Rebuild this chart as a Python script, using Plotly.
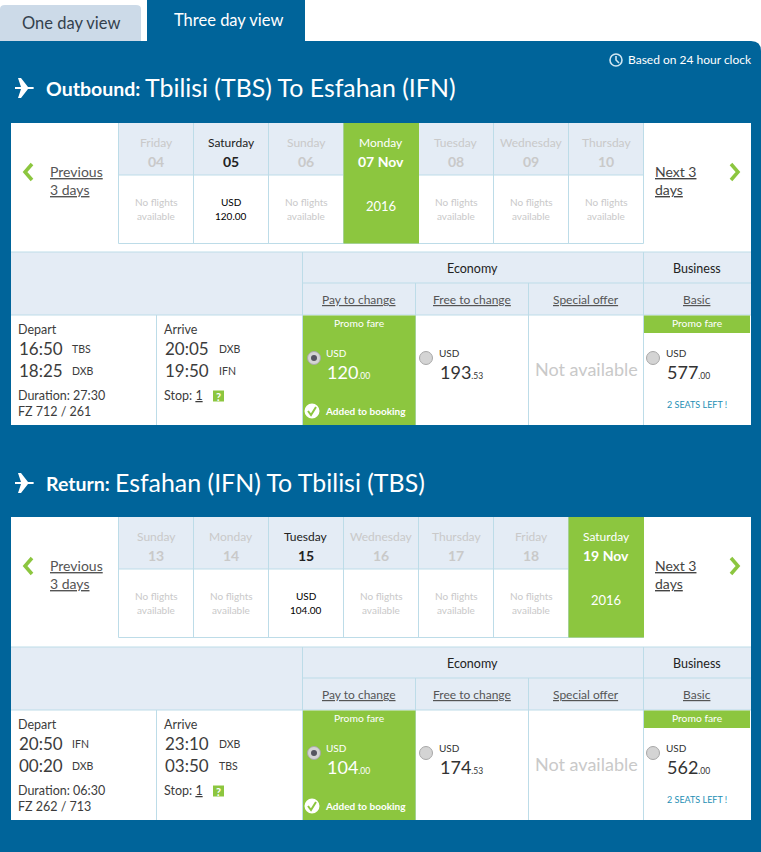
import plotly.graph_objects as go

# Data
tab_labels = ["One day view", "Three day view"]
clock_note = "Based on 24 hour clock"

section_titles = ["Outbound:", "Return:"]
section_routes = ["Tbilisi (TBS) To Esfahan (IFN)", "Esfahan (IFN) To Tbilisi (TBS)"]

day_names = [
    ["Friday", "Saturday", "Sunday", "Monday", "Tuesday", "Wednesday", "Thursday"],
    ["Sunday", "Monday", "Tuesday", "Wednesday", "Thursday", "Friday", "Saturday"],
]
day_numbers = [
    ["04", "05", "06", "07 Nov", "08", "09", "10"],
    ["13", "14", "15", "16", "17", "18", "19 Nov"],
]
day_fares = [
    [None, "120.00", None, None, None, None, None],
    [None, None, "104.00", None, None, None, None],
]
selected_day = [3, 6]
selected_year = "2016"

fare_headers = ["Pay to change", "Free to change", "Special offer", "Basic"]
cabin_names = ["Economy", "Business"]

depart_times = [["16:50", "18:25"], ["20:50", "00:20"]]
depart_codes = [["TBS", "DXB"], ["IFN", "DXB"]]
arrive_times = [["20:05", "19:50"], ["23:10", "03:50"]]
arrive_codes = [["DXB", "IFN"], ["DXB", "TBS"]]
durations = ["27:30", "06:30"]
flight_numbers = ["FZ 712 / 261", "FZ 262 / 713"]
stops = ["1", "1"]

fare_whole = [["120", "193", None, "577"], ["104", "174", None, "562"]]
fare_cents = [["00", "53", None, "00"], ["00", "53", None, "00"]]

# Styles and layout
FONT = "Lato"
BLUE = "#00649a"
GREEN = "#8cc63f"
PALE = "#e4ecf5"
LINE = "#bddce8"
TAB = "#ccdae8"
DARK = "#3c3c3c"
FADED = "#c9c9c9"
COL_EDGES = [118.5, 193.5, 268.5, 343.5, 418.5, 493.5, 568.5, 643.5]
FARE_EDGES = [302.5, 415.5, 528.5, 643.5, 751]
CAL_TOPS = [123, 517]
ROW_TOPS = [252, 647]
TITLE_Y = [88, 483]
ROUTE_X = [145, 115]

shapes = []
notes = []


def rect(x0, y0, x1, y1, fill, layer="above"):
    shapes.append(dict(type="rect", x0=x0, y0=y0, x1=x1, y1=y1, fillcolor=fill,
                       line=dict(width=0), layer=layer))


def hline(x0, x1, y):
    shapes.append(dict(type="line", x0=x0, x1=x1, y0=y, y1=y, line=dict(color=LINE, width=1)))


def vline(x, y0, y1):
    shapes.append(dict(type="line", x0=x, x1=x, y0=y0, y1=y1, line=dict(color=LINE, width=1)))


def path(d, fill=None, color=None, width=0):
    shapes.append(dict(type="path", path=d, fillcolor=fill or "rgba(0,0,0,0)",
                       line=dict(color=color or "rgba(0,0,0,0)", width=width)))


def circle(cx, cy, r, fill, color=None, width=0):
    shapes.append(dict(type="circle", x0=cx - r, x1=cx + r, y0=cy - r, y1=cy + r,
                       fillcolor=fill, line=dict(color=color or "rgba(0,0,0,0)", width=width)))


def label(x, y, text, size=12, color=DARK, anchor="left", family=FONT):
    # Lato sits a pixel low and right of where the picture has its text
    x = x - 1 if anchor == "left" else x
    notes.append(dict(x=x, y=y - 1, text=text, showarrow=False, xanchor=anchor, yanchor="middle",
                      borderpad=0, font=dict(family=family, size=size, color=color)))


def plane(x, y):
    path(f"M {x-10} {y-1} L {x-4} {y-1} L {x-7} {y-10} L {x-4} {y-10} L {x+3} {y-1} "
         f"L {x+8} {y-1} Q {x+10} {y} {x+8} {y+1} L {x+3} {y+1} L {x-4} {y+10} L {x-7} {y+10} "
         f"L {x-4} {y+1} L {x-10} {y+1} Z", fill="white")


def radio(x, y, on=False):
    circle(x, y, 6.5, "#d4d4d4", "#a8a8a8", 1)
    if on:
        circle(x, y, 3, "#555560")


def price(x, y, whole, cents, color):
    label(x, y, f'{whole}<span style="font-size:8.5px">.{cents}</span>', 18, color)


# Page background and tabs
rect(0, 41, 761, 852, BLUE, "below")
path("M 0 41 L 0 9 Q 0 5 5 5 L 136 5 Q 141 5 141 9 L 141 41 Z", fill=TAB)
path("M 147 41 L 147 0 L 305 0 L 305 41 Z", fill=BLUE)
path("M 751 41 Q 761 41 761 51 L 761 41 Z", fill="white")
label(71, 24, tab_labels[0], 16.5, "#33414d", "center")
label(228, 21, tab_labels[1], 16.5, "white", "center")

circle(616, 60, 6, BLUE, "#cfe6f2", 1.6)
path("M 616 56 L 616 60 L 619 63", color="#cfe6f2", width=1.6)
label(628, 60, clock_note, 12, "white")

for s in range(2):
    top = CAL_TOPS[s]
    row = ROW_TOPS[s]
    cal_head = top + 52
    cal_foot = top + 120.5
    plane(25, TITLE_Y[s])
    label(46, TITLE_Y[s] + 1, f"<b>{section_titles[s]}</b>", 19.5, "white")
    label(ROUTE_X[s], TITLE_Y[s], section_routes[s], 24.9, "white")

    # White card
    rect(11, top, 751, row + 173, "white")

    # Day strip
    rect(COL_EDGES[0], top, COL_EDGES[-1], cal_head, PALE)
    hline(COL_EDGES[0], COL_EDGES[-1], cal_head)
    hline(COL_EDGES[0], COL_EDGES[-1], cal_foot)
    for edge in COL_EDGES:
        vline(edge, top, cal_foot)
    pick = selected_day[s]
    rect(COL_EDGES[pick], top, COL_EDGES[pick + 1] + 0.5, cal_foot, GREEN)

    for i, name in enumerate(day_names[s]):
        mid = (COL_EDGES[i] + COL_EDGES[i + 1]) / 2
        fare = day_fares[s][i]
        if i == pick:
            label(mid, top + 20, name, 12, "white", "center")
            label(mid, top + 39, f"<b>{day_numbers[s][i]}</b>", 14, "white", "center")
            label(mid, top + 84, selected_year, 13, "white", "center")
            continue
        head = "#222222" if fare else FADED
        label(mid, top + 20, name, 12, head, "center")
        label(mid, top + 39, f"<b>{day_numbers[s][i]}</b>", 14, head, "center")
        if fare:
            label(mid, top + 80, "USD", 10, "black", "center")
            label(mid, top + 94, fare, 10, "black", "center")
        else:
            label(mid, top + 80, "No flights", 10, FADED, "center")
            label(mid, top + 94, "available", 10, FADED, "center")

    # Previous / next links
    path(f"M 32 {top+41} L 25 {top+49} L 32 {top+57}", color=GREEN, width=3.5)
    path(f"M 731 {top+41} L 738 {top+49} L 731 {top+57}", color=GREEN, width=3.5)
    label(50, top + 49, "<u>Previous</u>", 14, "#555555")
    label(50, top + 67, "<u>3 days</u>", 14, "#555555")
    label(655, top + 49, "<u>Next 3</u>", 14, "#444444")
    label(655, top + 67, "<u>days</u>", 14, "#444444")

    # Fare table header
    rect(11, row, 751, row + 63, PALE)
    hline(11, 751, row)
    hline(FARE_EDGES[0], 751, row + 31)
    hline(11, 751, row + 63)
    vline(FARE_EDGES[0], row, row + 173)
    vline(FARE_EDGES[3], row, row + 173)
    vline(FARE_EDGES[1], row + 31, row + 173)
    vline(FARE_EDGES[2], row + 31, row + 173)
    vline(156.5, row + 63, row + 173)
    label((FARE_EDGES[1] + FARE_EDGES[2]) / 2, row + 17, cabin_names[0], 12.5, "#222222", "center")
    label((FARE_EDGES[3] + FARE_EDGES[4]) / 2, row + 17, cabin_names[1], 12.5, "#222222", "center")
    for j, head in enumerate(fare_headers):
        label((FARE_EDGES[j] + FARE_EDGES[j + 1]) / 2, row + 48, f"<u>{head}</u>", 12, "#555555", "center")

    # Flight details
    for x_text, x_code, word, times, codes in [
        (18, 72, "Depart", depart_times[s], depart_codes[s]),
        (164, 219, "Arrive", arrive_times[s], arrive_codes[s]),
    ]:
        label(x_text, row + 78, word, 12.5)
        for k in range(2):
            label(x_text + 1, row + 97 + 22 * k, times[k], 17)
            label(x_code, row + 98 + 22 * k, codes[k], 10.5)
    label(18, row + 144, f"Duration: {durations[s]}", 12.5)
    label(18, row + 160, flight_numbers[s], 12.5)
    label(164, row + 144, f"Stop: <u>{stops[s]}</u>", 12.5)
    rect(213, row + 138.5, 224, row + 149.5, GREEN)
    label(218.5, row + 145, "<b>?</b>", 11, "white", "center")

    # Fare cells
    rect(FARE_EDGES[0] + 0.5, row + 63.5, FARE_EDGES[1], row + 173, GREEN)
    mid0 = (FARE_EDGES[0] + FARE_EDGES[1]) / 2
    label(mid0, row + 72, "Promo fare", 10.3, "white", "center")
    radio(314, row + 106, True)
    label(326, row + 102, "USD", 10, "white")
    price(327, row + 121, fare_whole[s][0], fare_cents[s][0], "white")
    circle(312, row + 159, 7.5, "white")
    path(f"M 308 {row+159} L 311 {row+163} L 316 {row+155}", color=GREEN, width=2)
    label(325, row + 160, "<b>Added to booking</b>", 10, "white")

    radio(426, row + 106)
    label(439, row + 102, "USD", 10, "#333333")
    price(440, row + 121, fare_whole[s][1], fare_cents[s][1], "#333333")

    label((FARE_EDGES[2] + FARE_EDGES[3]) / 2, row + 118, "Not available", 18, FADED, "center")

    rect(644, row + 63.5, 750, row + 81, GREEN)
    label(697, row + 72, "Promo fare", 10.3, "white", "center")
    radio(653, row + 106)
    label(666, row + 102, "USD", 10, "#333333")
    price(667, row + 121, fare_whole[s][3], fare_cents[s][3], "#333333")
    label(697, row + 153, "2 SEATS LEFT !", 9, "#1f8fb5", "center")

fig = go.Figure()
fig.update_layout(
    width=761,
    height=852,
    margin=dict(l=0, r=0, t=0, b=0),
    paper_bgcolor="white",
    plot_bgcolor="white",
    showlegend=False,
    xaxis=dict(range=[0, 761], visible=False, fixedrange=True),
    yaxis=dict(range=[852, 0], visible=False, fixedrange=True),
    shapes=shapes,
    annotations=notes,
)
fig.write_html(
    "out.html",
    config=dict(displayModeBar=False),
    post_script="document.body.style.margin='0';document.body.style.overflow='hidden';",
)
